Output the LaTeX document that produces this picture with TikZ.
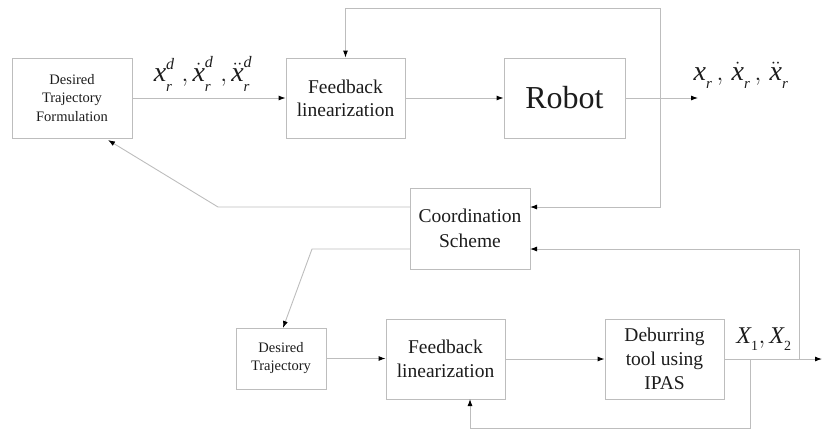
\documentclass[tikz,border=0pt]{standalone}
\usepackage{fontspec}
\setmainfont{Liberation Serif}
\newfontfamily\tnr{Liberation Serif}
\usetikzlibrary{arrows.meta}
\definecolor{ln}{HTML}{BDBDBD}
\definecolor{tx}{HTML}{1C1C1C}
\newcommand\vi[1]{\mbox{\tnr\itshape #1}}
\newcommand\lsb[1]{_{\raisebox{-4pt}{\tnr\itshape\fontsize{15}{15}\selectfont #1}}}
\newcommand\hsp[1]{^{\raisebox{3pt}{\tnr\itshape\fontsize{16}{16}\selectfont #1}}}
\newcommand\nsb[1]{_{\raisebox{-3pt}{\tnr\fontsize{14}{14}\selectfont #1}}}
\tikzset{
  blk/.style={draw=ln, line width=0.9pt, rectangle, align=center, text=tx, inner sep=0pt},
  con/.style={draw=ln, line width=0.9pt},
  arr/.style={con, -{Latex[length=7pt,width=5pt,color=black]}},
  lbl/.style={text=tx, inner sep=0pt}
}
\begin{document}
\begin{tikzpicture}[x=1pt,y=-1pt]
\useasboundingbox (0,0) rectangle (822,432);
% blocks
\node[blk, minimum width=120pt, minimum height=80pt, font=\tnr\fontsize{14.5}{18.5}\selectfont] (dtf) at (72,98) {Desired\\Trajectory\\Formulation};
\node[blk, minimum width=119pt, minimum height=80pt, font=\tnr\fontsize{19.5}{23}\selectfont] (fb1) at (345.5,98) {Feedback\\linearization};
\node[blk, minimum width=121pt, minimum height=80pt, font=\tnr\fontsize{32}{36}\selectfont] (robot) at (564.5,98) {Robot};
\node[blk, minimum width=120pt, minimum height=81pt, font=\tnr\fontsize{19.5}{25}\selectfont] (coord) at (470,228.5) {Coordination\\Scheme};
\node[blk, minimum width=90pt, minimum height=61pt, font=\tnr\fontsize{14.5}{18}\selectfont] (dt) at (281,358.5) {Desired\\Trajectory};
\node[blk, minimum width=119pt, minimum height=80pt, font=\tnr\fontsize{19.5}{24}\selectfont] (fb2) at (445.5,359) {Feedback\\linearization};
\node[blk, minimum width=119pt, minimum height=80pt, font=\tnr\fontsize{19.5}{24}\selectfont] (deb) at (664.5,359) {Deburring\\tool using\\IPAS};
% labels
\node[lbl, font=\tnr\fontsize{28}{30}\selectfont] (l1) at (203,74) {$\vi{x}\lsb{r}\hsp{d}\;,\dot{\vi{x}}\lsb{r}\hsp{d}\;,\ddot{\vi{x}}\lsb{r}\hsp{d}$};
\node[lbl, font=\tnr\fontsize{28}{30}\selectfont] (l2) at (741,75) {$\vi{x}\lsb{r}\,,\,\dot{\vi{x}}\lsb{r}\,,\,\ddot{\vi{x}}\lsb{r}$};
\node[lbl, font=\tnr\fontsize{24}{28}\selectfont] (l3) at (764,339) {$\vi{X}\nsb{1},\vi{X}\nsb{2}$};
% coordinates
\coordinate (out1) at (698,98);
\coordinate (j1) at (660,98);
\coordinate (t1) at (660,8);
\coordinate (b1) at (660,207);
\coordinate (ce1) at (530,207);
\coordinate (ce2) at (530,249);
\coordinate (cw1) at (410,207);
\coordinate (cw2) at (410,249);
\coordinate (k1) at (218,207);
\coordinate (dtfb) at (108,140);
\coordinate (k2) at (312,249);
\coordinate (dtt) at (283,328);
\coordinate (out2) at (822,359);
\coordinate (j2) at (750,359);
\coordinate (j3) at (799,359);
\coordinate (fb2b) at (470,399);
% connectors
\draw[arr] (dtf.east) -- (fb1.west);
\draw[arr] (fb1.east) -- (robot.west);
\draw[arr] (robot.east) -- (out1);
\draw[arr] (j1) -- (t1) -| (fb1.north);
\draw[arr] (j1) -- (b1) -- (ce1);
\draw[arr] (cw1) -- (k1) -- (dtfb);
\draw[arr] (cw2) -- (k2) -- (dtt);
\draw[arr] (dt.east) -- (dt.east -| fb2.west);
\draw[arr] (fb2.east) -- (deb.west);
\draw[arr] (deb.east) -- (out2);
\draw[arr] (j2) |- (470,428) -- (fb2b);
\draw[arr] (j3) |- (ce2);
\end{tikzpicture}
\end{document}
